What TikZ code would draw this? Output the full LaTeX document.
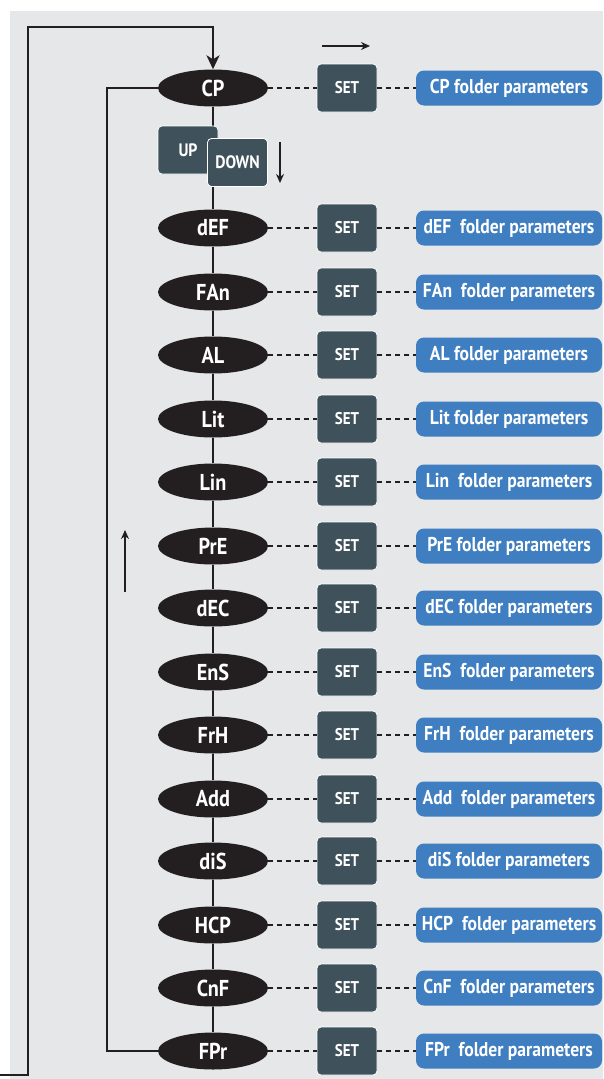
\documentclass[tikz,border=0pt]{standalone}
\usepackage{fontspec}
\setsansfont{PT Sans}[FakeStretch=0.88]
\usetikzlibrary{arrows.meta, shapes.geometric}
\definecolor{bggray}{HTML}{E6E7E8}
\definecolor{ovalblk}{HTML}{231F20}
\definecolor{keyslate}{HTML}{3F525C}
\definecolor{parblue}{HTML}{3F7EC0}
\tikzset{
    menu/.style={ellipse, fill=ovalblk, text=white, minimum width=110pt, minimum height=37pt, inner sep=0pt, font=\sffamily\bfseries\fontsize{23}{23}\selectfont},
    key/.style={draw=white, line width=0.8pt, fill=keyslate, rounded corners=4pt, text=white, minimum width=60pt, minimum height=48pt, inner sep=0pt, font=\sffamily\bfseries\fontsize{17}{17}\selectfont},
    fpar/.style={fill=parblue, rounded corners=8pt, text=white, minimum width=186pt, minimum height=35pt, inner sep=0pt, font=\sffamily\bfseries\fontsize{20}{20}\selectfont},
    wire/.style={draw=ovalblk, line width=2pt},
    link/.style={draw=ovalblk, line width=2pt, dash pattern=on 5pt off 4pt},
    hint/.style={draw=ovalblk, line width=1.4pt, -{Stealth[length=9pt, width=8pt]}},
    fd/.style={x=1pt, y=-1pt}
}
\begin{document}
\begin{tikzpicture}[fd]
        \useasboundingbox (0,0) rectangle (603,1079);
        \fill[bggray] (10,11) rectangle (603,1079);

        \node[menu] (cp) at (213,88) {CP};
        \node[menu] (def) at (213,228) {dEF};
        \node[menu] (fan) at (213,292) {FAn};
        \node[menu] (al) at (213,355) {AL};
        \node[menu] (lit) at (213,419) {Lit};
        \node[menu] (lin) at (213,482) {Lin};
        \node[menu] (pre) at (213,546) {PrE};
        \node[menu] (dec) at (213,608) {dEC};
        \node[menu] (ens) at (213,672) {EnS};
        \node[menu] (frh) at (213,735) {FrH};
        \node[menu] (add) at (213,799) {Add};
        \node[menu] (dis) at (213,861) {diS};
        \node[menu] (hcp) at (213,925) {HCP};
        \node[menu] (cnf) at (213,988) {CnF};
        \node[menu] (fpr) at (213,1051) {FPr};

        \node[key] (scp) at (347,88) {SET};
        \node[key] (sdef) at (347,228) {SET};
        \node[key] (sfan) at (347,292) {SET};
        \node[key] (sal) at (347,355) {SET};
        \node[key] (slit) at (347,419) {SET};
        \node[key] (slin) at (347,482) {SET};
        \node[key] (spre) at (347,546) {SET};
        \node[key] (sdec) at (347,608) {SET};
        \node[key] (sens) at (347,672) {SET};
        \node[key] (sfrh) at (347,735) {SET};
        \node[key] (sadd) at (347,799) {SET};
        \node[key] (sdis) at (347,861) {SET};
        \node[key] (shcp) at (347,925) {SET};
        \node[key] (scnf) at (347,988) {SET};
        \node[key] (sfpr) at (347,1051) {SET};

        \node[fpar] (pcp) at (509,88) {CP folder parameters};
        \node[fpar] (pdef) at (509,228) {dEF\ \ folder parameters};
        \node[fpar] (pfan) at (509,292) {FAn\ \ folder parameters};
        \node[fpar] (pal) at (509,355) {AL folder parameters};
        \node[fpar] (plit) at (509,419) {Lit folder parameters};
        \node[fpar] (plin) at (509,482) {Lin\ \ folder parameters};
        \node[fpar] (ppre) at (509,546) {PrE folder parameters};
        \node[fpar] (pdec) at (509,608) {dEC folder parameters};
        \node[fpar] (pens) at (509,672) {EnS\ \ folder parameters};
        \node[fpar] (pfrh) at (509,735) {FrH\ \ folder parameters};
        \node[fpar] (padd) at (509,799) {Add\ \ folder parameters};
        \node[fpar] (pdis) at (509,861) {diS folder parameters};
        \node[fpar] (phcp) at (509,925) {HCP\ \ folder parameters};
        \node[fpar] (pcnf) at (509,988) {CnF\ \ folder parameters};
        \node[fpar] (pfpr) at (509,1051) {FPr\ \ folder parameters};

        % dashed links menu -> SET -> folder
        \draw[link] (cp) -- (scp);   \draw[link] (scp) -- (pcp);
        \draw[link] (def) -- (sdef); \draw[link] (sdef) -- (pdef);
        \draw[link] (fan) -- (sfan); \draw[link] (sfan) -- (pfan);
        \draw[link] (al) -- (sal);   \draw[link] (sal) -- (pal);
        \draw[link] (lit) -- (slit); \draw[link] (slit) -- (plit);
        \draw[link] (lin) -- (slin); \draw[link] (slin) -- (plin);
        \draw[link] (pre) -- (spre); \draw[link] (spre) -- (ppre);
        \draw[link] (dec) -- (sdec); \draw[link] (sdec) -- (pdec);
        \draw[link] (ens) -- (sens); \draw[link] (sens) -- (pens);
        \draw[link] (frh) -- (sfrh); \draw[link] (sfrh) -- (pfrh);
        \draw[link] (add) -- (sadd); \draw[link] (sadd) -- (padd);
        \draw[link] (dis) -- (sdis); \draw[link] (sdis) -- (pdis);
        \draw[link] (hcp) -- (shcp); \draw[link] (shcp) -- (phcp);
        \draw[link] (cnf) -- (scnf); \draw[link] (scnf) -- (pcnf);
        \draw[link] (fpr) -- (sfpr); \draw[link] (sfpr) -- (pfpr);

        % menu chain
        \draw[wire] (cp) -- (def) -- (fan) -- (al) -- (lit) -- (lin) -- (pre) -- (dec)
            -- (ens) -- (frh) -- (add) -- (dis) -- (hcp) -- (cnf) -- (fpr);
        \node[key, font=\sffamily\bfseries\fontsize{18}{18}\selectfont] (up) at (188,150) {UP};
        \node[key, font=\sffamily\bfseries\fontsize{18}{18}\selectfont] (down) at (237.5,162.5) {DOWN};

        % loops
        \coordinate (ob) at (0,1075);
        \coordinate (oc) at (28,27);
        \draw[wire, -{Stealth[length=14pt, width=13pt, inset=4pt]}] (ob) -- (ob -| oc) -- (oc) -| (cp.north);
        \draw[wire] (cp.west) -- ++(-51,0) |- (fpr.west);

        % direction hints
        \coordinate (ra) at (322,46);
        \coordinate (rb) at (370,46);
        \coordinate (da) at (280,142);
        \coordinate (db) at (280,183);
        \coordinate (ua) at (125,592);
        \coordinate (ub) at (125,530);
        \draw[hint] (ra) -- (rb);
        \draw[hint] (da) -- (db);
        \draw[hint] (ua) -- (ub);
    \end{tikzpicture}
\end{document}
